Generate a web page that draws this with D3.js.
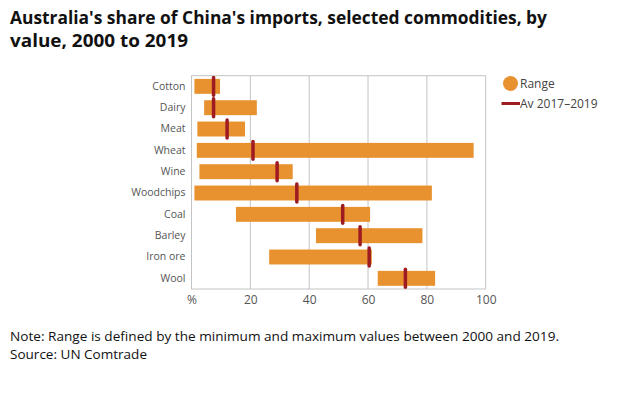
<!DOCTYPE html>
<html><head><meta charset="utf-8">
<script src="https://cdn.jsdelivr.net/npm/d3@7"></script>
<style>body{margin:0;background:#fff;} svg{display:block;}</style>
</head><body>
<svg id="c" width="625" height="393"></svg>
<script>
const categories = ["Cotton","Dairy","Meat","Wheat","Wine","Woodchips","Coal","Barley","Iron ore","Wool"];
const rangeMin = [1, 4.3, 2, 1.8, 2.7, 1, 15.1, 42.3, 26.4, 63.3];
const rangeMax = [9.7, 22.2, 18.2, 95.9, 34.4, 81.7, 60.7, 78.5, 61.3, 82.8];
const avg2017_2019 = [7.5, 7.5, 12.1, 20.9, 29.1, 35.8, 51.4, 57.3, 60.4, 72.7];
const tickValues = [0, 20, 40, 60, 80, 100];
const tickLabels = ["%", "20", "40", "60", "80", "100"];

(function () {
const orange = "#E8912F", red = "#9E1B22", grid = "#c4c4c4";
const svg = d3.select("#c");
const pL = 191.5, pR = 485.7, pT = 75.7, pB = 289;
const x = d3.scaleLinear().domain([0, 100]).range([pL, pR]);
const y = d3.scaleBand().domain(categories).range([pT, pB]).paddingInner(0.3).paddingOuter(0.15);

// title
const title = svg.append("text").attr("font-family", "'Open Sans', sans-serif")
  .attr("font-weight", 700).attr("font-size", 17).attr("fill", "#111");
title.append("tspan").attr("x", 10).attr("y", 23.5).text("Australia's share of China's imports, selected commodities, by").attr("textLength", 537).attr("lengthAdjust","spacingAndGlyphs");
title.append("tspan").attr("x", 10).attr("y", 46.5).text("value, 2000 to 2019").attr("textLength", 178).attr("lengthAdjust","spacingAndGlyphs");

// grid lines
svg.append("g").selectAll("line").data(tickValues.slice(1, -1)).join("line")
  .attr("x1", d => x(d)).attr("x2", d => x(d)).attr("y1", pT).attr("y2", pB)
  .attr("stroke", grid).attr("stroke-width", 1);
// frame
svg.append("rect").attr("x", pL).attr("y", pT).attr("width", pR - pL).attr("height", pB - pT)
  .attr("fill", "none").attr("stroke", grid).attr("stroke-width", 1);

// x axis
const xa = svg.append("g").attr("transform", `translate(0,${pB})`)
  .call(d3.axisBottom(x).tickValues(tickValues).tickFormat((d, i) => tickLabels[i]).tickSize(0).tickPadding(6));
xa.select(".domain").remove();
xa.selectAll("text").attr("font-family", "'Open Sans', sans-serif").attr("font-size", 12).attr("fill", "#555");

// y axis
const ya = svg.append("g").attr("transform", `translate(${pL},0)`)
  .call(d3.axisLeft(y).tickSize(0).tickPadding(6));
ya.select(".domain").remove();
ya.selectAll("text").attr("font-family", "'Open Sans', sans-serif").attr("font-size", 10.5).attr("fill", "#555");

// bars
svg.append("g").selectAll("rect").data(categories).join("rect")
  .attr("x", (d, i) => x(rangeMin[i])).attr("width", (d, i) => x(rangeMax[i]) - x(rangeMin[i]))
  .attr("y", d => y(d)).attr("height", y.bandwidth()).attr("fill", orange);

// avg markers
svg.append("g").selectAll("line").data(categories).join("line")
  .attr("x1", (d, i) => x(avg2017_2019[i])).attr("x2", (d, i) => x(avg2017_2019[i]))
  .attr("y1", d => y(d) - 1.5).attr("y2", d => y(d) + y.bandwidth() + 1.5)
  .attr("stroke", red).attr("stroke-width", 3.5).attr("stroke-linecap", "round");

// legend
const lg = svg.append("g").attr("font-family", "'Open Sans', sans-serif").attr("font-size", 12).attr("fill", "#444");
lg.append("circle").attr("cx", 510.5).attr("cy", 83.5).attr("r", 7.5).attr("fill", orange);
lg.append("text").attr("x", 520).attr("y", 88).text("Range");
lg.append("line").attr("x1", 501.5).attr("x2", 520).attr("y1", 103.5).attr("y2", 103.5).attr("stroke", red).attr("stroke-width", 3);
lg.append("text").attr("x", 520).attr("y", 108).text("Av 2017\u20132019");

// note
const note = svg.append("text").attr("font-family", "'Open Sans', sans-serif").attr("font-size", 12.5).attr("fill", "#111");
note.append("tspan").attr("x", 10).attr("y", 340.5).text("Note: Range is defined by the minimum and maximum values between 2000 and 2019.").attr("textLength", 549).attr("lengthAdjust","spacingAndGlyphs");
note.append("tspan").attr("x", 10).attr("y", 358.5).text("Source: UN Comtrade").attr("textLength", 137).attr("lengthAdjust","spacingAndGlyphs");
})();
</script>
</body></html>
